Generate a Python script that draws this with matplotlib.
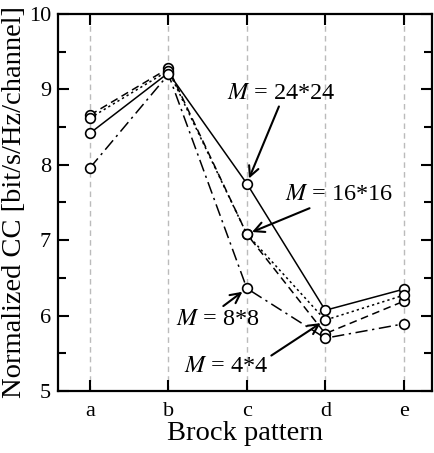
import matplotlib
matplotlib.use("Agg")
import matplotlib.pyplot as plt
from matplotlib.ticker import MultipleLocator

plt.rcParams['font.family'] = ['Liberation Serif', 'DejaVu Serif']
plt.rcParams['mathtext.fontset'] = 'stix'

categories = ['a', 'b', 'c', 'd', 'e']
m24 = [8.42, 9.22, 7.75, 6.07, 6.35]
m16 = [8.66, 9.28, 7.08, 5.76, 6.19]
m4 = [8.62, 9.25, 7.08, 5.94, 6.27]
m8 = [7.96, 9.20, 6.36, 5.70, 5.89]

fig = plt.figure(figsize=(4.35, 4.53), dpi=100)
ax = fig.add_axes([0.133, 0.137, 0.860, 0.832])
x = list(range(len(categories)))

for xi in x:
    ax.axvline(xi, color='#bbbbbb', ls=(0, (4, 3)), lw=1.0, zorder=0)

mk = dict(marker='o', ms=7, mfc='white', mec='black', mew=1.2, color='black', lw=1.1)
ax.plot(x, m24, ls='-', **mk)
ax.plot(x, m16, ls=(0, (5, 3)), **mk)
ax.plot(x, m4, ls=(0, (1.5, 2)), **mk)
ax.plot(x, m8, ls=(0, (8, 3, 1.5, 3)), **mk)

ax.set_xlim(-0.41, 4.36)
ax.set_ylim(5, 10)
ax.set_xticks(x)
ax.set_xticklabels(categories)
ax.yaxis.set_major_locator(MultipleLocator(1))
ax.yaxis.set_minor_locator(MultipleLocator(0.5))
ax.tick_params(axis='both', which='both', direction='in', top=True, right=True,
               labelsize=16, width=1.5, pad=5)
ax.tick_params(axis='x', which='major', pad=8)
ax.tick_params(axis='both', which='major', length=8)
ax.tick_params(axis='y', which='minor', length=6)
ax.tick_params(axis='y', labelright=False)
for s in ax.spines.values():
    s.set_linewidth(1.6)

ax.set_xlabel('Brock pattern', fontsize=20.5, labelpad=0)
ax.set_ylabel('Normalized CC [bit/s/Hz/channel]', fontsize=20.5, labelpad=1)

def ap(rx, ry):
    return dict(arrowstyle='->', color='black', lw=1.5, mutation_scale=18,
                shrinkA=0, shrinkB=4, relpos=(rx, ry))

fs = 17.5
ax.annotate('$M$ = 24*24', xy=(2, m24[2]), xytext=(1.75, 8.95), fontsize=fs,
            ha='left', va='center', arrowprops=ap(0.49, 0.05))
ax.annotate('$M$ = 16*16', xy=(2, m16[2]), xytext=(2.48, 7.6), fontsize=fs,
            ha='left', va='center', arrowprops=ap(0.34, 0.1))
ax.annotate('$M$ = 8*8', xy=(2, m8[2]), xytext=(1.1, 5.95), fontsize=fs,
            ha='left', va='center', arrowprops=ap(0.5, 0.95))
ax.annotate('$M$ = 4*4', xy=(3, m4[3]), xytext=(1.2, 5.32), fontsize=fs,
            ha='left', va='center', arrowprops=ap(1.0, 0.95))

fig.savefig('out.png', dpi=100)
